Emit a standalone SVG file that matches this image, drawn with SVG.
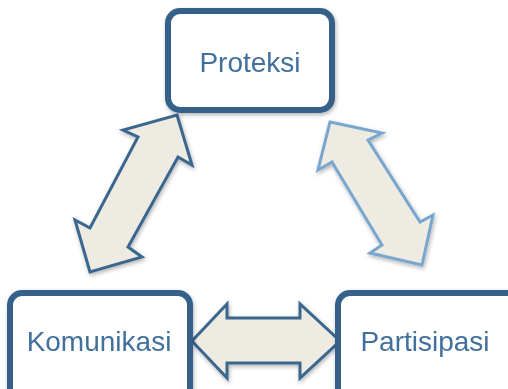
<svg xmlns="http://www.w3.org/2000/svg" width="508" height="389" viewBox="0 0 508 389">
<style>
.box{fill:#ffffff;stroke:#366189;stroke-width:6}
.lbl{font-family:"Liberation Sans","Open Sans",sans-serif;font-size:28px;fill:#41709B;text-anchor:middle}
.arr{fill:#EDEBE2;stroke:#3A668E;stroke-width:3;stroke-linejoin:miter}
.arr2{fill:#EDEBE2;stroke:#79A6CE;stroke-width:3;stroke-linejoin:miter}
</style>
<defs>
<filter id="sh" x="-20%" y="-20%" width="140%" height="140%">
<feDropShadow dx="1" dy="2" stdDeviation="2" flood-color="#000" flood-opacity="0.3"/>
</filter>
</defs>
<g id="connectors" filter="url(#sh)">
<polygon class="arr" points="177,115 192,165 178,157 128,247 142,257 90,272 75,220 90,228 138,137 123,130"/>
<polygon class="arr2" points="330,122 382,133 368,140 420,222 433,215 422,265 370,253 382,245 332,162 318,170"/>
<polygon class="arr" points="192,341 227,304 227,318 300,318 300,304 340,341 300,378 300,363 227,363 227,378"/>
</g>
<g id="proteksi" filter="url(#sh)">
<rect class="box" x="168" y="11" width="164" height="99" rx="12"/>
<text class="lbl" x="250" y="72">Proteksi</text>
</g>
<g id="komunikasi" filter="url(#sh)">
<rect class="box" x="10" y="293" width="180" height="110" rx="12"/>
<text class="lbl" x="99" y="351">Komunikasi</text>
</g>
<g id="partisipasi" filter="url(#sh)">
<rect class="box" x="338" y="293" width="190" height="110" rx="12"/>
<text class="lbl" x="425" y="351">Partisipasi</text>
</g>
</svg>
